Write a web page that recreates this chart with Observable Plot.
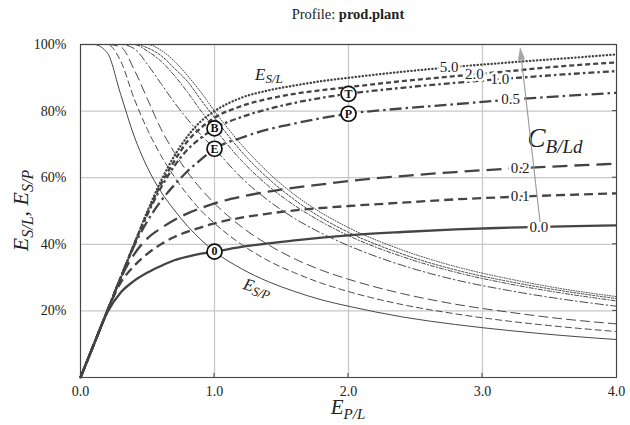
<!DOCTYPE html>
<html><head><meta charset="utf-8">
<script src="https://cdn.jsdelivr.net/npm/d3@7"></script>
<script src="https://cdn.jsdelivr.net/npm/@observablehq/plot@0.6"></script>
<style>
body{margin:0;background:#fff}
svg{display:block}
svg text, svg tspan{font-family:"Liberation Serif","Times New Roman",serif !important}
</style>
</head><body><div id="chart"></div>
<script>
// ---- data ----
const xs = [0,0.1,0.2,0.3,0.4,0.5,0.6,0.7,0.8,0.9,1.0,1.2,1.4,1.6,1.8,2.0,2.4,2.8,3.2,3.6,4.0];
const cValues = ["0.0","0.1","0.2","0.5","1.0","2.0","5.0"];
// E_S/L (self-sufficiency), thick curves
const sl00 = [0,0.10,0.195,0.255,0.29,0.315,0.335,0.352,0.363,0.372,0.378,0.392,0.403,0.412,0.42,0.427,0.437,0.445,0.45,0.454,0.457];
const sl01 = [0,0.10,0.20,0.285,0.335,0.372,0.40,0.422,0.438,0.451,0.463,0.48,0.492,0.502,0.509,0.515,0.525,0.535,0.542,0.548,0.553];
const sl02 = [0,0.10,0.20,0.298,0.37,0.418,0.448,0.473,0.493,0.509,0.523,0.543,0.558,0.57,0.58,0.59,0.605,0.617,0.627,0.635,0.642];
const sl05 = [0,0.10,0.20,0.30,0.395,0.47,0.53,0.578,0.62,0.655,0.687,0.72,0.745,0.763,0.779,0.792,0.808,0.821,0.834,0.845,0.855];
const sl10 = [0,0.10,0.20,0.30,0.40,0.49,0.57,0.635,0.685,0.72,0.748,0.782,0.806,0.825,0.84,0.852,0.87,0.885,0.898,0.91,0.92];
const sl20 = [0,0.10,0.20,0.30,0.40,0.495,0.58,0.65,0.71,0.75,0.78,0.815,0.837,0.852,0.863,0.872,0.89,0.905,0.92,0.935,0.946];
const sl50 = [0,0.10,0.20,0.30,0.40,0.50,0.59,0.665,0.725,0.77,0.80,0.84,0.862,0.877,0.89,0.90,0.918,0.933,0.946,0.958,0.97];
// E_S/P (self-consumption), thin curves
const sp00 = [1,1,0.975,0.85,0.725,0.63,0.558,0.503,0.454,0.413,0.378,0.327,0.288,0.258,0.233,0.214,0.182,0.159,0.141,0.126,0.114];
const sp01 = [1,1,1,0.95,0.838,0.744,0.667,0.603,0.548,0.501,0.463,0.40,0.351,0.314,0.283,0.258,0.219,0.191,0.169,0.152,0.138];
const sp02 = [1,1,1,0.993,0.925,0.836,0.747,0.676,0.616,0.566,0.523,0.453,0.399,0.356,0.322,0.295,0.252,0.220,0.196,0.176,0.161];
const sp05 = [1,1,1,1,0.988,0.94,0.883,0.826,0.775,0.728,0.687,0.60,0.532,0.477,0.433,0.396,0.337,0.293,0.261,0.235,0.214];
const sp10 = [1,1,1,1,1,0.98,0.95,0.907,0.856,0.80,0.748,0.652,0.576,0.516,0.467,0.426,0.363,0.316,0.281,0.253,0.23];
const sp20 = [1,1,1,1,1,0.99,0.967,0.929,0.888,0.833,0.78,0.679,0.598,0.533,0.479,0.436,0.371,0.323,0.288,0.26,0.237];
const sp50 = [1,1,1,1,1,1,0.983,0.95,0.906,0.856,0.80,0.70,0.616,0.548,0.494,0.45,0.383,0.333,0.296,0.266,0.243];
// where each C label sits along its E_S/L curve (x position)
const labelX = [3.42,3.28,3.28,3.21,3.13,2.94,2.75];
// circled markers
const markerLabels = ["0","E","B","T","P"];
const markerX = [1,1,1,2,2];
const markerSeries = ["0.0","0.5","1.0","1.0","0.5"];
const xTicks = [0,1,2,3,4];
const yTicks = [0.2,0.4,0.6,0.8,1.0];
// annotation anchors (data units)
const eslPos = [1.306, 0.892];
const espPos = [1.21, 0.265];
const cLabelPos = [3.34, 0.69];
const arrowFrom = [3.433, 0.466];
const arrowTo = [3.284, 0.991];

// ---- build table ----
const SL = {"0.0":sl00,"0.1":sl01,"0.2":sl02,"0.5":sl05,"1.0":sl10,"2.0":sl20,"5.0":sl50};
const SP = {"0.0":sp00,"0.1":sp01,"0.2":sp02,"0.5":sp05,"1.0":sp10,"2.0":sp20,"5.0":sp50};
const rows = [];
cValues.forEach(c => xs.forEach((x,i) => rows.push({c, x, sl: SL[c][i], sp: SP[c][i]})));
function at(arr, x){
  const i = Math.max(1, Math.min(xs.length-1, d3.bisectLeft(xs, x)));
  const t = (x - xs[i-1])/(xs[i]-xs[i-1]);
  return arr[i-1] + t*(arr[i]-arr[i-1]);
}
const lineLabels = cValues.map((c,i) => ({c, x: labelX[i], y: at(SL[c], labelX[i])}));
const markers = markerLabels.map((m,i) => ({m, x: markerX[i], y: at(SL[markerSeries[i]], markerX[i])}));

const thickDash = {"0.0":null,"0.1":"9,5","0.2":"15,7","0.5":"12,4,2.5,4","1.0":"6,3,2.5,3","2.0":"5,3","5.0":"0.3,3.2"};
const thinDash  = {"0.0":null,"0.1":"6,4","0.2":"9,5","0.5":"8,3,1.5,3","1.0":"4,2,1.2,2","2.0":"2.2,1.6","5.0":"1,1.6"};

const FONT = '"Liberation Serif","Times New Roman",serif';
const plot = Plot.plot({
  width: 630, height: 425,
  marginTop: 44, marginBottom: 48, marginLeft: 80, marginRight: 14,
  style: {fontFamily: FONT, fontSize: "14px", background: "#fff", color: "#222"},
  x: {domain: [0,4]},
  y: {domain: [0,1]},
  marks: [
    Plot.gridX(xTicks, {stroke: "#c8c8c8", strokeOpacity: 1, strokeWidth: 1.3}),
    Plot.gridY(yTicks, {stroke: "#c8c8c8", strokeOpacity: 1, strokeWidth: 1.3}),
    Plot.axisX({ticks: xTicks, tickSize: 0, tickPadding: 9, tickFormat: d3.format(".1f"), label: null, fontSize: 14}),
    Plot.axisY({ticks: yTicks, tickSize: 0, tickPadding: 14, tickFormat: d3.format(".0%"), label: null, fontSize: 14}),
    ...cValues.map(c => Plot.line(rows.filter(d => d.c === c), {
      x: "x", y: "sp", stroke: "#333", strokeWidth: 0.9,
      strokeDasharray: thinDash[c] || undefined, curve: "monotone-x"})),
    ...cValues.map(c => Plot.line(rows.filter(d => d.c === c), {
      x: "x", y: "sl", stroke: "#444", strokeWidth: 2.3,
      strokeLinecap: c === "5.0" ? "round" : "butt",
      strokeDasharray: thickDash[c] || undefined, curve: "monotone-x"})),
    Plot.text(lineLabels, {x: "x", y: "y", text: "c", fill: "#222", stroke: "white", strokeWidth: 5, fontSize: 15}),
    Plot.dot(markers, {x: "x", y: "y", r: 7.5, fill: "white", stroke: "#111", strokeWidth: 1.7}),
    Plot.text(markers, {x: "x", y: "y", text: "m", fontWeight: "bold", fontSize: 12, fill: "#111"}),
    Plot.frame({stroke: "#444", strokeWidth: 1.1})
  ]
});
plot.setAttribute("font-family", FONT);
document.getElementById("chart").appendChild(plot);

// ---- rich text annotations ----
const svg = d3.select(plot);
const sx = plot.scale("x"), sy = plot.scale("y");
const X = v => sx.apply(v), Y = v => sy.apply(v);

const title = svg.append("text").attr("x", (X(0)+X(4))/2).attr("y", 19)
  .attr("text-anchor", "middle").attr("fill", "#222").style("font-size", "14.5px");
title.append("tspan").text("Profile: ");
title.append("tspan").attr("font-weight", "bold").text("prod.plant");

function rich(x, y, parts, anchor, rotate){
  const g = svg.append("text").attr("x", x).attr("y", y).attr("text-anchor", anchor)
    .attr("font-style", "italic").attr("fill", "#222");
  if (rotate) g.attr("transform", `rotate(${rotate},${x},${y})`);
  let cur = 0;
  parts.forEach(p => {
    const ts = g.append("tspan").text(p.t).style("font-size", p.size + "px");
    const want = p.shift || 0;
    if (want !== cur) { ts.attr("dy", want - cur); cur = want; }
    if (p.upright) ts.attr("font-style", "normal");
  });
  return g;
}
rich((X(0)+X(4))/2, 414, [{t:"E",size:21},{t:"P/L",size:15,shift:5}], "middle");
rich(28, (Y(0)+Y(1))/2, [{t:"E",size:22},{t:"S/L",size:16,shift:5},{t:", ",size:22,upright:true},{t:"E",size:22},{t:"S/P",size:16,shift:5}], "middle", -90);
rich(X(eslPos[0]), Y(eslPos[1]), [{t:"E",size:17},{t:"S/L",size:13,shift:3}], "start");
rich(X(espPos[0]), Y(espPos[1]), [{t:"E",size:17},{t:"S/P",size:13,shift:3}], "start", 17);
rich(X(cLabelPos[0]), Y(cLabelPos[1]), [{t:"C",size:27},{t:"B/Ld",size:19,shift:6}], "start");

// arrow
const ax1 = X(arrowFrom[0]), ay1 = Y(arrowFrom[1]), ax2 = X(arrowTo[0]), ay2 = Y(arrowTo[1]);
const ang = Math.atan2(ay2-ay1, ax2-ax1), hl = 13, hw = 3.6;
const bx = ax2 - hl*Math.cos(ang), by = ay2 - hl*Math.sin(ang);
svg.append("line").attr("x1", ax1).attr("y1", ay1).attr("x2", bx).attr("y2", by)
  .attr("stroke", "#999").attr("stroke-width", 1.1);
svg.append("path").attr("d", `M${ax2},${ay2}L${bx + hw*Math.sin(ang)},${by - hw*Math.cos(ang)}L${bx - hw*Math.sin(ang)},${by + hw*Math.cos(ang)}Z`)
  .attr("fill", "#a6a6a6");

// small inward ticks on bottom and right frame edges
xTicks.slice(1,-1).forEach(t => svg.append("line").attr("x1", X(t)).attr("x2", X(t)).attr("y1", Y(0)).attr("y2", Y(0)-4).attr("stroke", "#444"));
yTicks.slice(0,-1).forEach(t => svg.append("line").attr("x1", X(4)).attr("x2", X(4)-4).attr("y1", Y(t)).attr("y2", Y(t)).attr("stroke", "#444"));
</script>
</body></html>
